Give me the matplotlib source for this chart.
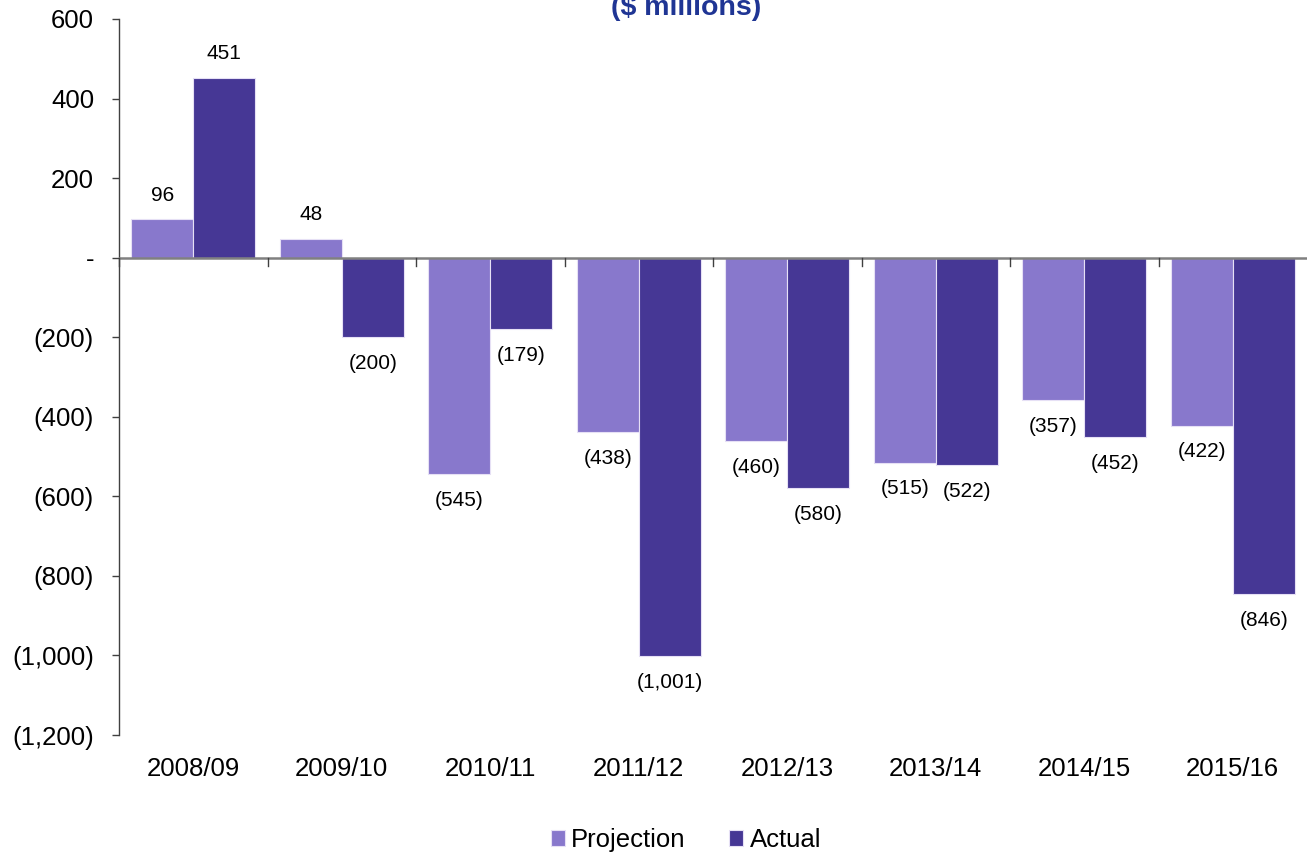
import matplotlib
matplotlib.use("Agg")
import matplotlib.pyplot as plt
import numpy as np

plt.rcParams['font.family'] = ['Liberation Sans', 'DejaVu Sans']

categories = ["2008/09", "2009/10", "2010/11", "2011/12", "2012/13", "2013/14", "2014/15", "2015/16"]
projection = [96, 48, -545, -438, -460, -515, -357, -422]
actual = [451, -200, -179, -1001, -580, -522, -452, -846]
yticks = [600, 400, 200, 0, -200, -400, -600, -800, -1000, -1200]

c_proj = "#8878CC"
c_act = "#463795"

fig = plt.figure(figsize=(13.07, 8.55), dpi=100)
ax = fig.add_axes([119/1307, 1 - 735/855, (1307 - 119)/1307, (735 - 19)/855])

x = np.arange(len(categories))
w = 0.418
ax.bar(x - w/2, projection, w, color=c_proj, edgecolor="#E6E0F5", linewidth=0.8, label="Projection", zorder=2)
ax.bar(x + w/2, actual, w, color=c_act, edgecolor="#E6E0F5", linewidth=0.8, label="Actual", zorder=2)

def fmt(v):
    if v == 0:
        return "-"
    if v < 0:
        return "({:,})".format(-v)
    return "{:,}".format(v)

for xs, vals in ((x - w/2, projection), (x + w/2, actual)):
    for xi, v in zip(xs, vals):
        if v >= 0:
            ax.annotate(fmt(v), (xi, v), xytext=(0, 17.5), textcoords="offset points",
                        ha="center", va="center", fontsize=15)
        else:
            ax.annotate(fmt(v), (xi, v), xytext=(0, -19), textcoords="offset points",
                        ha="center", va="center", fontsize=15)

ax.set_xlim(-0.5, len(categories) - 0.5)
ax.set_ylim(-1200, 600)
ax.set_yticks(yticks)
ax.set_yticklabels([fmt(v) for v in yticks], fontsize=18.5)
ax.tick_params(axis="y", direction="out", length=5, width=1, color="#404040", pad=13)

ax.set_xticks([])
for s in ("top", "right", "bottom"):
    ax.spines[s].set_visible(False)
ax.spines["left"].set_color("#404040")
ax.spines["left"].set_linewidth(1)

# zero line with boundary ticks
ax.axhline(0, color="#808080", linewidth=1.8, zorder=3)
for b in np.arange(0.5, len(categories) - 0.5, 1.0):
    ax.plot([b, b], [0, -20], color="#404040", linewidth=1, zorder=3, clip_on=False)
ax.plot([-0.5, -0.5], [0, -20], color="#404040", linewidth=1, zorder=3, clip_on=False)

for xi, lab in zip(x, categories):
    ax.annotate(lab, (xi, -1200), xytext=(0, -24.5), textcoords="offset points",
                ha="center", va="center", fontsize=18.5, annotation_clip=False)

fig.text(686/1307, 1 - 8/855, "($ millions)", ha="center", va="center",
         fontsize=20.5, fontweight="bold", color="#1F3594")

fig.legend(*ax.get_legend_handles_labels(), loc="center",
           bbox_to_anchor=(686/1307, 1 - 840/855), ncol=2, frameon=False,
           fontsize=18.5, handlelength=0.55, handleheight=0.55, handletextpad=0.25,
           columnspacing=1.7)

fig.savefig("out.png", dpi=100)
